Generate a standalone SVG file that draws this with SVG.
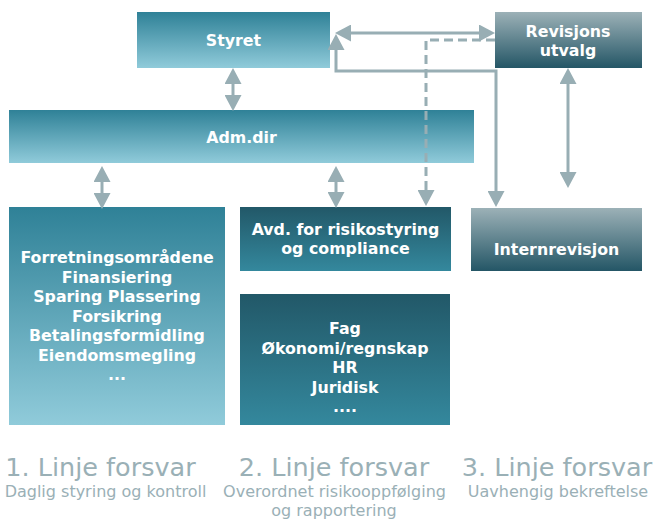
<svg xmlns="http://www.w3.org/2000/svg" width="655" height="522" viewBox="0 0 655 522">
<defs>
<linearGradient id="gLight" x1="0" y1="0" x2="0" y2="1">
<stop offset="0" stop-color="#2f8197"/><stop offset="1" stop-color="#90cbda"/>
</linearGradient>
<linearGradient id="gDark" x1="0" y1="0" x2="0" y2="1">
<stop offset="0" stop-color="#225868"/><stop offset="1" stop-color="#34889d"/>
</linearGradient>
<linearGradient id="gGray" x1="0" y1="0" x2="0" y2="1">
<stop offset="0" stop-color="#9cb1b7"/><stop offset="1" stop-color="#245666"/>
</linearGradient>
<marker id="ah" markerUnits="userSpaceOnUse" markerWidth="16" markerHeight="17" viewBox="0 0 16 17" refX="2" refY="8.5" orient="auto-start-reverse">
<path d="M0,0 L16,8.5 L0,17 z" fill="#98aeb4"/>
</marker>
<style>
.box text{font-family:"DejaVu Sans",Verdana,sans-serif;font-weight:bold;font-size:15.8px;fill:#ffffff;text-anchor:middle}
.conn line,.conn path{stroke:#98aeb4;stroke-width:3;fill:none}
.dash{stroke-dasharray:9 5}
.lbl text{font-family:"DejaVu Sans",Verdana,sans-serif;fill:#9ab0b6;text-anchor:middle}
.h{font-size:25.5px}
.s{font-size:16px}
</style>
</defs>
<g id="styret" class="box"><rect x="137" y="12" width="193" height="56" fill="url(#gLight)"/><text x="233.5" y="46">Styret</text></g>
<g id="revisjonsutvalg" class="box"><rect x="495" y="12" width="147" height="56" fill="url(#gGray)"/><text x="568" y="37">Revisjons</text><text x="568" y="56">utvalg</text></g>
<g id="admdir" class="box"><rect x="9" y="110" width="465" height="53" fill="url(#gLight)"/><text x="241.5" y="143">Adm.dir</text></g>
<g id="forretning" class="box"><rect x="9" y="207" width="216" height="218" fill="url(#gLight)"/>
<text x="117" y="263.3">Forretningsområdene</text><text x="117" y="282.8">Finansiering</text><text x="117" y="302.3">Sparing Plassering</text><text x="117" y="321.8">Forsikring</text><text x="117" y="341.3">Betalingsformidling</text><text x="117" y="360.8">Eiendomsmegling</text><text x="117" y="380.3">...</text></g>
<g id="avd" class="box"><rect x="240" y="207" width="211" height="64" fill="url(#gDark)"/><text x="345.5" y="235">Avd. for risikostyring</text><text x="345.5" y="254">og compliance</text></g>
<g id="fag" class="box"><rect x="240" y="294" width="210" height="131" fill="url(#gDark)"/>
<text x="345" y="334">Fag</text><text x="345" y="353.5">Økonomi/regnskap</text><text x="345" y="373">HR</text><text x="345" y="392.5">Juridisk</text><text x="345" y="412">....</text></g>
<g id="internrevisjon" class="box"><rect x="471" y="208" width="171" height="63" fill="url(#gGray)"/><text x="556.5" y="255">Internrevisjon</text></g>
<g id="connectors" class="conn">
<line x1="233" y1="82" x2="233" y2="97" marker-start="url(#ah)" marker-end="url(#ah)"/>
<line x1="102" y1="180" x2="102" y2="195" marker-start="url(#ah)" marker-end="url(#ah)"/>
<line x1="336" y1="180" x2="336" y2="194" marker-start="url(#ah)" marker-end="url(#ah)"/>
<line x1="349" y1="33" x2="481" y2="33" marker-start="url(#ah)" marker-end="url(#ah)"/>
<path d="M336,48 V71 H496 V193" marker-start="url(#ah)" marker-end="url(#ah)"/>
<path class="dash" d="M495,40 H426 V192" marker-end="url(#ah)"/>
<line x1="568" y1="82" x2="568" y2="174" marker-start="url(#ah)" marker-end="url(#ah)"/>
</g>
<g id="labels" class="lbl">
<text class="h" x="100.5" y="476">1. Linje forsvar</text>
<text class="s" x="105.5" y="497">Daglig styring og kontroll</text>
<text class="h" x="334" y="476">2. Linje forsvar</text>
<text class="s" x="334.5" y="497">Overordnet risikooppfølging</text>
<text class="s" x="334" y="516">og rapportering</text>
<text class="h" x="557" y="476">3. Linje forsvar</text>
<text class="s" x="558" y="497">Uavhengig bekreftelse</text>
</g>
</svg>
